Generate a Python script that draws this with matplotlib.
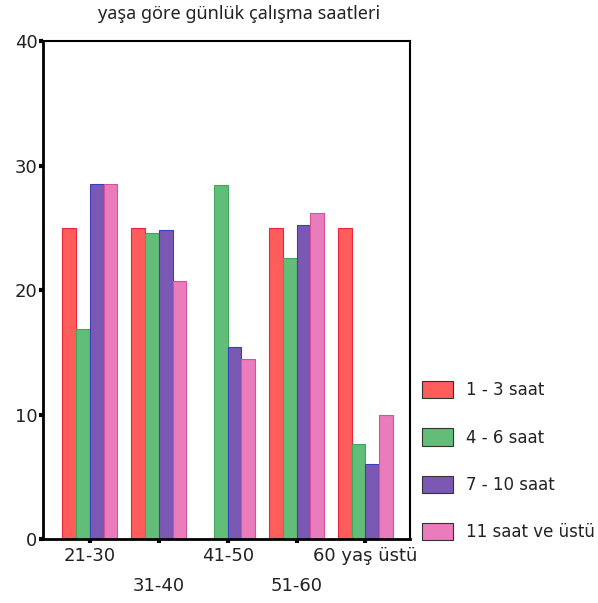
import matplotlib
matplotlib.use("Agg")
import matplotlib.pyplot as plt
import numpy as np
from matplotlib.patches import Patch

# data
age_groups = ["21-30", "31-40", "41-50", "51-60", "60 yaş üstü"]
hours_labels = ["1 - 3 saat", "4 - 6 saat", "7 - 10 saat", "11 saat ve üstü"]
h_1_3 = [25.0, 25.0, 0.0, 25.0, 25.0]
h_4_6 = [16.9, 24.6, 28.4, 22.6, 7.6]
h_7_10 = [28.5, 24.8, 15.4, 25.2, 6.0]
h_11_plus = [28.5, 20.7, 14.5, 26.2, 10.0]

fills = ["#ff5c5c", "#62bd78", "#7b58b4", "#ea7cbb"]
edges = ["#e8283a", "#3fa85a", "#3a3fc0", "#d9509a"]

plt.rcParams['font.family'] = ['DejaVu Sans']

fig = plt.figure(figsize=(5.98, 6.03), dpi=100)
ax = fig.add_axes([0.072, 0.106, 0.614, 0.826])

x = np.arange(len(age_groups))
w = 0.2
series = [h_1_3, h_4_6, h_7_10, h_11_plus]
for i, vals in enumerate(series):
    ax.bar(x + (i - 1.5) * w, vals, width=w, color=fills[i],
           edgecolor=edges[i], linewidth=0.8)

ax.set_xlim(-0.68, 4.65)
ax.set_ylim(0, 40)
ax.set_yticks([0, 10, 20, 30, 40])
ax.set_xticks(x)
ax.set_xticklabels([lab if k % 2 == 0 else "\n" + lab for k, lab in enumerate(age_groups)])
ax.tick_params(axis='both', direction='out', length=3, width=3, labelsize=13,
               colors='black', labelcolor='#222222')
ax.tick_params(axis='x', pad=3)
ax.tick_params(axis='y', pad=1)
for lab in ax.get_xticklabels():
    lab.set_linespacing(1.85)
for sp in ax.spines.values():
    sp.set_linewidth(1.5)
ax.spines['left'].set_linewidth(2)
ax.spines['bottom'].set_linewidth(2)

fig.text(0.40, 0.977, "yaşa göre günlük çalışma saatleri", ha='center', va='center',
         fontsize=13, family='Noto Sans', color='#222222')

handles = [Patch(facecolor=fills[i], edgecolor='#333333', linewidth=0.8)
           for i in range(4)]
fig.legend(handles, hours_labels, loc='upper left', bbox_to_anchor=(0.705, 0.368),
           frameon=False, fontsize=12, handlelength=1.9, handleheight=1.2,
           handletextpad=0.75, labelspacing=1.75, borderpad=0, borderaxespad=0,
           labelcolor='#222222')

fig.savefig("out.png", dpi=100)
